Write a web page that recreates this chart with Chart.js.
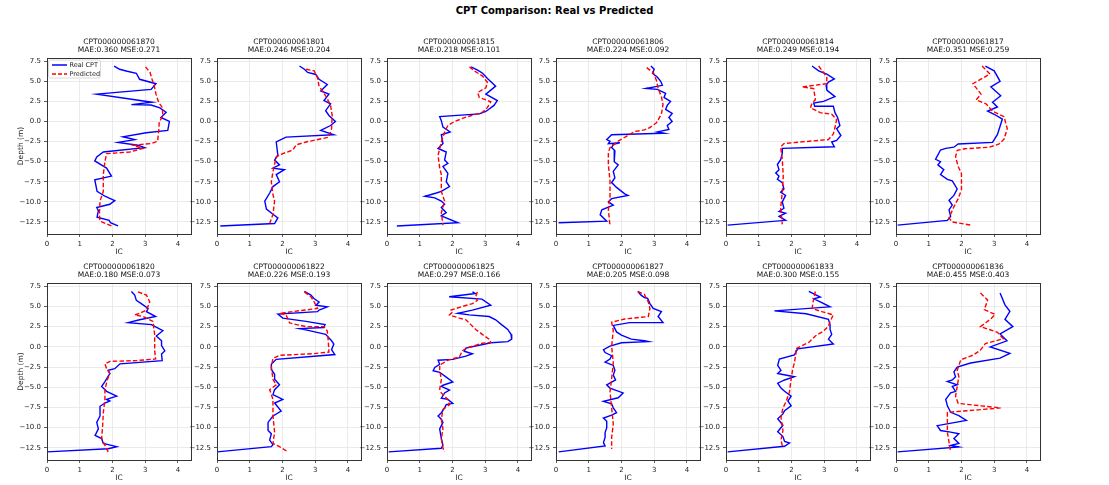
<!DOCTYPE html>
<html>
<head>
<meta charset="utf-8">
<title>CPT Comparison: Real vs Predicted</title>
<script src="https://cdn.jsdelivr.net/npm/chart.js@4.4.1/dist/chart.umd.min.js"></script>
<style>
  body { margin: 0; background: #fff; width: 1109px; height: 485px; position: relative; overflow: hidden; font-family: "DejaVu Sans", sans-serif; }
  #suptitle { position: absolute; top: 5px; left: 554.5px; transform: translateX(-50%); font-weight: bold; font-size: 10px; white-space: nowrap; color: #000; }
  canvas { position: absolute; }
</style>
</head>
<body>
<div id="suptitle">CPT Comparison: Real vs Predicted</div>
<script>
// Soundings, scores and axis ticks
const cptIds = ['CPT000000061870', 'CPT000000061801', 'CPT000000061815', 'CPT000000061806', 'CPT000000061814', 'CPT000000061817',
                'CPT000000061820', 'CPT000000061822', 'CPT000000061825', 'CPT000000061827', 'CPT000000061833', 'CPT000000061836'];
const maeValues = [0.360, 0.246, 0.218, 0.224, 0.249, 0.351, 0.180, 0.226, 0.297, 0.205, 0.300, 0.455];
const mseValues = [0.271, 0.204, 0.101, 0.092, 0.194, 0.259, 0.073, 0.193, 0.166, 0.098, 0.155, 0.403];
const xTicks = [0, 1, 2, 3, 4];
const yTicks = [7.5, 5.0, 2.5, 0.0, -2.5, -5.0, -7.5, -10.0, -12.5];

// Profiles as [IC, depth (m)]
const real1870 = [[2.05,6.9],[2.22,6.5],[2.45,6.25],[2.73,6.0],[2.83,5.25],[3.33,4.7],[3.18,4.0],[1.52,3.4],[2.53,2.8],[3.21,2.4],[2.58,2.1],[3.18,2.05],[3.45,1.7],[3.64,1.15],[3.48,0.5],[3.74,0.0],[3.69,-1.1],[3.03,-1.4],[2.32,-1.9],[2.68,-2.25],[2.17,-2.6],[2.78,-2.95],[2.98,-3.25],[1.72,-3.8],[1.52,-4.4],[1.46,-4.9],[1.82,-5.8],[1.97,-6.8],[1.46,-7.25],[1.53,-8.7],[1.77,-9.3],[2.07,-9.85],[1.92,-10.3],[1.52,-10.7],[1.57,-11.1],[1.53,-11.9],[1.9,-12.3],[1.94,-12.6],[2.17,-13.0]];
const pred1870 = [[3.01,6.8],[3.15,6.1],[3.21,5.25],[3.28,4.4],[3.33,3.4],[3.41,2.4],[3.52,1.75],[3.54,0.75],[3.43,-0.1],[3.41,-1.3],[3.38,-2.45],[3.18,-2.75],[2.63,-2.95],[2.93,-3.35],[2.53,-3.8],[1.82,-4.0],[1.77,-5.0],[1.72,-6.6],[1.72,-8.7],[1.62,-9.9],[1.6,-11.6],[1.62,-12.4],[1.97,-13.0]];

const real1801 = [[2.52,6.9],[2.67,6.5],[2.77,6.1],[3.02,5.85],[3.12,5.25],[3.37,4.6],[3.17,3.8],[3.42,3.4],[3.27,2.6],[3.47,2.2],[3.32,1.35],[3.42,0.75],[3.62,0.0],[3.47,-0.5],[3.17,-1.1],[3.57,-1.65],[2.11,-1.95],[1.81,-2.55],[1.86,-4.2],[1.76,-4.8],[1.91,-5.4],[1.71,-5.8],[2.06,-6.0],[1.81,-6.6],[1.91,-7.5],[1.71,-8.1],[1.61,-8.9],[1.46,-9.9],[1.51,-10.9],[1.71,-11.55],[1.86,-12.0],[1.76,-12.7],[0.1,-13.0]];
const pred1801 = [[2.72,6.5],[2.97,6.3],[3.07,5.45],[3.12,4.4],[3.32,3.2],[3.47,2.0],[3.52,0.75],[3.5,-0.9],[3.42,-1.95],[2.72,-2.55],[2.42,-2.9],[2.32,-3.55],[2.01,-4.0],[1.81,-4.4],[1.71,-6.25],[1.66,-7.5],[1.71,-9.1],[1.76,-9.9],[1.71,-11.55],[1.61,-12.7]];

const real1815 = [[2.57,6.8],[2.77,6.4],[2.92,6.0],[3.07,5.35],[3.32,4.4],[3.02,3.4],[3.37,2.6],[3.27,2.0],[3.02,1.25],[2.82,0.95],[1.61,0.6],[1.66,0.1],[1.71,-0.7],[1.93,-1.3],[1.66,-1.65],[1.71,-2.75],[1.56,-3.35],[1.81,-3.8],[1.76,-4.8],[1.86,-5.2],[1.71,-5.6],[1.86,-6.45],[1.81,-7.5],[1.91,-8.1],[1.66,-8.7],[1.51,-8.9],[1.16,-9.3],[1.46,-9.5],[1.66,-9.9],[1.76,-10.3],[1.66,-10.7],[1.81,-11.35],[1.66,-11.75],[2.17,-12.6],[0.3,-13.0]];
const pred1815 = [[2.52,6.8],[2.67,6.3],[2.92,5.65],[3.07,4.85],[3.02,4.2],[2.77,3.6],[2.82,3.0],[3.17,2.45],[3.07,1.75],[2.92,1.15],[2.42,0.55],[2.06,0.0],[1.86,-0.5],[1.76,-1.3],[1.66,-2.55],[1.56,-4.2],[1.61,-5.8],[1.66,-6.6],[1.66,-8.7],[1.76,-9.9],[1.66,-11.35],[1.71,-12.9]];

const real1806 = [[2.9,6.9],[3.0,6.5],[2.95,6.0],[3.1,5.5],[3.2,5.0],[3.25,4.5],[2.75,4.1],[3.1,4.0],[3.35,3.5],[3.3,3.0],[3.5,2.5],[3.4,2.0],[3.35,1.5],[3.55,1.0],[3.45,0.5],[3.55,0.0],[3.4,-0.5],[3.45,-1.0],[3.1,-1.3],[3.3,-1.45],[1.7,-1.65],[1.55,-2.25],[1.65,-2.45],[1.6,-2.75],[1.95,-2.65],[1.75,-2.85],[1.7,-3.25],[1.8,-3.65],[1.78,-5.0],[1.9,-5.4],[1.75,-6.2],[1.8,-7.0],[1.7,-7.6],[1.85,-8.2],[2.1,-9.0],[2.2,-9.2],[1.7,-9.6],[1.6,-10.0],[1.75,-10.4],[1.4,-11.0],[1.35,-11.6],[1.55,-12.4],[0.08,-12.6]];
const pred1806 = [[2.77,6.7],[2.97,6.1],[3.07,5.1],[3.12,4.1],[3.22,3.1],[3.27,2.1],[3.22,0.9],[3.07,-0.15],[2.87,-0.75],[2.7,-1.05],[2.4,-1.25],[2.15,-1.85],[1.9,-2.45],[1.65,-3.25],[1.6,-3.85],[1.6,-5.4],[1.65,-7.4],[1.65,-9.4],[1.6,-11.0],[1.65,-13.0]];

const real1814 = [[2.63,6.9],[2.83,6.3],[3.08,5.9],[3.31,5.3],[3.13,4.9],[3.06,4.5],[3.08,3.9],[3.33,3.1],[2.98,2.5],[2.68,2.3],[2.71,1.9],[3.28,1.9],[3.33,1.1],[3.41,0.5],[3.48,-0.5],[3.38,-0.9],[3.51,-1.75],[3.38,-2.35],[3.23,-2.55],[3.31,-3.15],[1.72,-3.35],[1.72,-3.95],[1.67,-4.75],[1.57,-5.35],[1.62,-6.0],[1.52,-6.4],[1.62,-6.8],[1.57,-7.2],[1.72,-7.6],[1.77,-8.4],[1.67,-8.8],[1.82,-9.2],[1.72,-10.0],[1.77,-10.8],[1.62,-11.2],[1.82,-11.4],[1.62,-11.8],[1.82,-12.3],[0.05,-12.9]];
const pred1814 = [[2.83,6.9],[2.98,6.1],[3.08,5.5],[3.08,4.7],[2.32,4.3],[2.68,4.1],[2.73,2.7],[2.63,2.3],[2.58,1.7],[2.88,1.1],[3.23,0.9],[3.38,0.25],[3.33,-0.75],[3.28,-1.55],[3.13,-2.25],[2.42,-2.5],[1.77,-2.75],[1.67,-3.15],[1.72,-4.75],[1.75,-6.8],[1.72,-8.8],[1.67,-10.8],[1.72,-12.8]];

const real1817 = [[2.73,6.9],[3.0,6.3],[3.18,5.0],[2.9,4.3],[3.2,3.2],[2.95,2.4],[3.1,1.8],[2.8,1.3],[3.0,0.9],[3.25,0.3],[3.1,-1.6],[2.95,-2.6],[1.9,-2.8],[1.77,-3.2],[1.52,-3.35],[1.36,-3.55],[1.21,-4.7],[1.36,-5.0],[1.28,-5.4],[1.46,-6.0],[1.36,-6.6],[1.57,-7.2],[1.72,-7.4],[1.87,-8.4],[1.77,-9.2],[1.62,-9.8],[1.72,-10.4],[1.62,-11.0],[1.67,-11.8],[1.57,-12.3],[0.05,-12.9]];
const pred1817 = [[2.63,6.9],[2.87,5.9],[2.35,4.7],[2.6,3.4],[2.45,2.7],[2.75,2.2],[2.95,1.3],[3.3,0.6],[3.4,-0.9],[3.3,-2.2],[3.15,-2.8],[2.85,-3.2],[2.1,-3.4],[1.87,-3.6],[1.82,-4.4],[1.9,-5.6],[2.0,-6.5],[2.0,-8.5],[1.9,-9.6],[1.77,-10.6],[1.62,-12.0],[1.72,-12.5],[2.3,-12.9]];

const real1820 = [[2.58,6.85],[2.68,6.4],[2.73,5.75],[2.88,5.35],[3.09,4.75],[3.04,4.35],[3.32,3.75],[2.83,3.35],[2.48,3.0],[3.19,2.75],[3.54,2.0],[3.34,1.35],[3.5,0.75],[3.5,0.15],[3.6,-0.5],[3.5,-0.9],[3.52,-1.7],[2.23,-2.1],[2.07,-2.7],[1.87,-2.9],[1.92,-3.3],[1.77,-4.3],[1.67,-4.9],[1.82,-5.5],[2.13,-6.1],[1.82,-6.5],[1.92,-6.7],[1.77,-6.95],[1.62,-7.35],[1.62,-8.55],[1.52,-9.35],[1.57,-10.15],[1.47,-10.95],[1.67,-11.35],[1.72,-11.95],[2.13,-12.35],[1.87,-12.6],[0.0,-13.0]];
const pred1820 = [[2.78,6.8],[3.04,6.4],[3.14,5.55],[3.04,4.55],[2.83,4.15],[2.68,3.95],[2.94,3.75],[3.24,3.15],[3.29,1.5],[3.29,-0.5],[3.32,-1.5],[2.73,-1.7],[1.92,-1.8],[1.77,-2.1],[1.82,-2.7],[1.92,-3.3],[1.84,-4.1],[1.77,-5.3],[1.77,-6.5],[1.72,-8.15],[1.7,-9.75],[1.67,-11.35],[1.87,-13.0]];

const real1822 = [[2.67,6.85],[2.87,6.4],[2.97,5.95],[3.12,5.55],[3.02,5.15],[3.37,4.95],[3.12,4.55],[3.07,4.35],[1.86,4.05],[2.01,3.55],[2.72,3.15],[3.3,2.75],[3.27,2.4],[2.52,2.25],[2.82,2.0],[3.32,1.55],[3.5,0.75],[3.57,0.35],[3.5,-0.35],[3.6,-0.95],[1.81,-1.55],[1.66,-2.15],[1.66,-2.8],[1.76,-3.4],[1.76,-4.0],[1.91,-4.7],[1.76,-5.3],[1.71,-5.9],[2.01,-6.5],[1.76,-6.95],[1.96,-7.95],[1.71,-8.55],[1.56,-9.35],[1.56,-10.35],[1.66,-10.75],[1.61,-11.55],[1.71,-12.1],[1.66,-12.35],[0.0,-13.0]];
const pred1822 = [[2.67,6.8],[2.87,6.2],[2.97,5.55],[3.02,5.15],[3.07,4.75],[1.91,4.15],[2.11,3.95],[2.22,2.95],[2.72,2.5],[3.27,2.5],[3.37,1.95],[3.4,0.75],[3.42,-0.65],[2.92,-0.85],[1.91,-1.05],[1.71,-1.45],[1.66,-2.45],[1.71,-4.05],[1.81,-4.7],[1.61,-5.3],[1.71,-6.5],[1.71,-8.55],[1.76,-10.55],[1.71,-11.95],[1.91,-12.35],[2.17,-13.0]];

const real1825 = [[2.61,6.8],[2.7,6.6],[1.9,6.2],[2.9,5.9],[3.17,5.15],[2.61,4.55],[2.16,4.15],[2.51,3.95],[3.12,3.75],[3.32,3.35],[3.5,2.75],[3.69,2.15],[3.79,1.55],[3.81,0.95],[3.69,0.65],[3.18,0.5],[2.41,-0.15],[2.36,-0.55],[2.61,-0.85],[2.41,-1.15],[2.01,-1.55],[1.56,-1.65],[1.61,-2.15],[1.46,-2.55],[1.41,-2.95],[1.61,-3.15],[1.81,-3.75],[2.01,-4.35],[1.71,-4.75],[1.66,-4.9],[1.91,-5.35],[1.76,-5.7],[1.66,-6.35],[1.86,-6.5],[2.01,-7.0],[1.81,-7.15],[1.76,-7.55],[1.66,-8.15],[1.56,-8.55],[1.66,-8.95],[1.71,-9.35],[1.61,-10.15],[1.66,-11.35],[1.71,-12.15],[1.66,-12.55],[0.05,-13.0]];
const pred1825 = [[2.76,6.8],[2.71,6.2],[2.76,5.75],[2.61,5.35],[2.26,4.95],[1.96,4.55],[2.01,4.35],[1.91,3.95],[2.21,3.55],[2.41,3.35],[2.56,2.75],[2.71,2.15],[2.91,1.55],[3.12,0.95],[3.17,0.55],[2.91,0.45],[2.51,-0.05],[2.31,-0.45],[2.21,-1.25],[1.86,-1.65],[1.61,-2.25],[1.61,-2.85],[1.66,-4.05],[1.61,-5.25],[1.66,-5.7],[1.86,-6.5],[1.91,-7.15],[1.71,-7.75],[1.66,-8.95],[1.71,-10.15],[1.66,-11.35],[1.71,-12.55],[1.76,-13.0]];

const real1827 = [[2.5,6.85],[2.6,6.4],[2.7,6.1],[2.8,6.0],[2.87,5.35],[2.97,4.75],[3.22,4.35],[3.12,3.75],[3.27,3.0],[2.25,3.0],[1.75,2.65],[1.85,1.85],[2.0,1.45],[2.3,0.95],[2.7,0.75],[2.82,0.65],[2.0,0.5],[1.65,0.1],[1.45,-0.35],[1.5,-0.7],[1.7,-1.1],[1.65,-1.5],[1.5,-1.9],[1.75,-2.3],[1.8,-2.9],[1.75,-3.5],[1.82,-4.1],[1.55,-4.7],[1.65,-5.1],[2.05,-5.7],[1.9,-6.3],[1.45,-6.75],[1.7,-7.05],[1.75,-7.55],[1.85,-8.15],[1.7,-8.45],[1.45,-8.8],[1.55,-9.2],[1.55,-10.0],[1.5,-10.6],[1.5,-11.2],[1.45,-11.85],[1.5,-12.25],[0.08,-13.0]];
const pred1827 = [[2.5,6.85],[2.7,6.5],[2.72,6.3],[2.82,5.55],[2.87,4.75],[2.82,3.75],[2.1,3.45],[1.7,3.05],[1.75,2.05],[1.7,0.05],[1.75,-1.95],[1.7,-3.95],[1.65,-5.55],[1.7,-7.55],[1.75,-9.55],[1.7,-11.2],[1.7,-12.65]];

const real1833 = [[2.53,6.85],[2.88,6.15],[2.68,5.95],[2.88,5.55],[3.18,4.95],[1.48,4.45],[2.45,4.1],[3.13,3.4],[3.18,2.75],[3.18,2.15],[3.23,1.55],[3.13,0.95],[3.28,0.35],[2.19,-0.25],[2.09,-1.0],[1.63,-1.5],[1.58,-2.3],[1.68,-2.9],[1.58,-3.3],[2.09,-3.7],[1.79,-4.1],[1.58,-4.5],[1.68,-5.1],[1.79,-5.5],[1.99,-6.1],[1.89,-6.7],[1.99,-7.3],[1.79,-7.9],[1.74,-8.3],[1.58,-8.9],[1.74,-9.7],[1.58,-10.5],[1.74,-11.1],[1.79,-11.7],[1.94,-11.9],[1.79,-12.3],[0.05,-13.0]];
const pred1833 = [[2.73,6.85],[2.68,5.95],[2.63,4.75],[2.93,4.35],[3.28,3.95],[3.18,3.15],[3.13,2.55],[2.98,1.95],[2.73,1.35],[2.53,0.55],[2.32,0.15],[2.12,-0.25],[2.14,-0.75],[2.09,-1.95],[2.04,-2.75],[1.99,-3.95],[1.94,-5.55],[1.84,-6.75],[1.74,-7.55],[1.68,-8.75],[1.74,-10.35],[1.68,-11.55],[1.74,-12.55]];

const real1836 = [[3.18,6.65],[3.33,5.2],[3.48,4.4],[3.33,3.4],[3.57,2.5],[3.18,1.6],[3.39,0.75],[2.88,0.0],[3.48,-0.8],[3.18,-1.4],[2.28,-2.0],[1.87,-2.5],[1.77,-3.1],[1.82,-3.7],[1.72,-4.1],[1.57,-4.3],[1.87,-4.7],[1.72,-4.9],[1.82,-5.5],[1.67,-5.7],[1.52,-6.5],[1.57,-7.3],[1.67,-8.1],[1.92,-8.5],[2.15,-9.1],[1.26,-9.75],[1.36,-10.35],[1.67,-10.55],[1.92,-10.75],[1.77,-11.35],[1.92,-11.95],[1.67,-12.2],[1.92,-12.4],[0.05,-13.0]];
const pred1836 = [[2.58,6.65],[2.8,5.8],[2.7,4.6],[3.03,4.0],[2.88,3.4],[2.58,2.5],[3.1,1.8],[3.28,1.0],[2.73,0.4],[2.58,-0.4],[2.37,-1.0],[1.98,-1.6],[1.92,-2.3],[1.87,-2.9],[1.92,-3.7],[1.87,-4.9],[1.82,-6.1],[1.9,-7.0],[2.6,-7.3],[3.2,-7.55],[2.5,-7.8],[1.57,-8.1],[1.57,-8.95],[1.57,-10.55],[1.62,-11.8],[1.67,-13.0]];

const realSeries = [real1870, real1801, real1815, real1806, real1814, real1817, real1820, real1822, real1825, real1827, real1833, real1836];
const predSeries = [pred1870, pred1801, pred1815, pred1806, pred1814, pred1817, pred1820, pred1822, pred1825, pred1827, pred1833, pred1836];

// grid layout (px)
const AXIS_LEFT = [47, 217, 387, 556, 726, 896];
const AXIS_TOP = [58, 283];
const AXIS_W = 144, AXIS_H = [176, 177];
const FONT = '"DejaVu Sans", sans-serif';
const SPINE = '#333333';
const GRID = '#e6e6e6';

const toXY = pts => pts.map(p => ({ x: p[0], y: p[1] }));
const fmtDepth = v => (v < 0 ? '\u2212' : '') + Math.abs(v).toFixed(1);

// frame, subplot title and (first panel only) legend
const panelDecor = {
    id: 'panelDecor',
    afterDraw(chart, args, opts) {
        const { ctx, chartArea: a } = chart;
        ctx.save();
        ctx.strokeStyle = SPINE;
        ctx.lineWidth = 1;
        ctx.strokeRect(Math.round(a.left) + 0.5, Math.round(a.top) + 0.5, Math.round(a.right - a.left), Math.round(a.bottom - a.top));

        ctx.fillStyle = '#111';
        ctx.font = '7.5px ' + FONT;
        ctx.textAlign = 'center';
        ctx.textBaseline = 'middle';
        const cx = (a.left + a.right) / 2;
        ctx.fillText(opts.line1, cx, a.top - 16);
        ctx.fillText(opts.line2, cx, a.top - 8);

        if (opts.legend) {
            const bx = a.left + 1.5, by = a.top + 2, bw = 52, bh = 18;
            ctx.fillStyle = 'rgba(255,255,255,0.8)';
            ctx.strokeStyle = '#d0d0d0';
            ctx.lineWidth = 0.8;
            ctx.beginPath();
            ctx.roundRect(bx, by, bw, bh, 2);
            ctx.fill();
            ctx.stroke();
            ctx.font = '6.5px ' + FONT;
            ctx.textAlign = 'left';
            ctx.lineWidth = 1.5;
            ctx.strokeStyle = '#0000ff';
            ctx.beginPath(); ctx.moveTo(bx + 3.5, by + 5); ctx.lineTo(bx + 18.5, by + 5); ctx.stroke();
            ctx.strokeStyle = '#ff0000';
            ctx.setLineDash([4, 2]);
            ctx.beginPath(); ctx.moveTo(bx + 3.5, by + 14); ctx.lineTo(bx + 18.5, by + 14); ctx.stroke();
            ctx.setLineDash([]);
            ctx.fillStyle = '#222';
            ctx.fillText('Real CPT', bx + 21, by + 5);
            ctx.fillText('Predicted', bx + 21, by + 14);
        }
        ctx.restore();
    }
};

function drawPanel(i) {
    const col = i % 6, row = Math.floor(i / 6);
    const padL = col === 0 ? AXIS_LEFT[0] : 40;
    const padT = 26, padR = 8, padB = 24;
    const canvas = document.createElement('canvas');
    canvas.width = padL + AXIS_W + padR;
    canvas.height = padT + AXIS_H[row] + padB;
    canvas.style.left = (AXIS_LEFT[col] - padL) + 'px';
    canvas.style.top = (AXIS_TOP[row] - padT) + 'px';
    document.body.appendChild(canvas);

    new Chart(canvas.getContext('2d'), {
        type: 'scatter',
        data: {
            datasets: [{
                label: 'Real CPT',
                data: toXY(realSeries[i]),
                showLine: true,
                borderColor: '#0000ff',
                borderWidth: 1.4,
                pointRadius: 0,
                order: 1
            }, {
                label: 'Predicted',
                data: toXY(predSeries[i]),
                showLine: true,
                borderColor: '#ff0000',
                borderWidth: 1.4,
                borderDash: [4.5, 2.2],
                pointRadius: 0,
                order: 0
            }]
        },
        options: {
            responsive: false,
            animation: false,
            events: [],
            layout: { padding: { top: padT, right: padR, left: 0, bottom: 0 } },
            plugins: {
                legend: { display: false },
                tooltip: { enabled: false },
                panelDecor: {
                    line1: cptIds[i],
                    line2: 'MAE:' + maeValues[i].toFixed(3) + ' MSE:' + mseValues[i].toFixed(3),
                    legend: i === 0
                }
            },
            scales: {
                x: {
                    type: 'linear',
                    min: 0,
                    max: 4.4,
                    afterBuildTicks: s => { s.ticks = xTicks.map(v => ({ value: v })); },
                    afterFit: s => { s.height = padB; },
                    grid: { color: GRID, lineWidth: 0.8, tickColor: SPINE, tickLength: 3, tickWidth: 0.8 },
                    border: { display: false },
                    ticks: { font: { size: 7, family: FONT }, color: '#222', padding: 3, maxRotation: 0, callback: v => String(v) },
                    title: { display: true, text: 'IC', font: { size: 7.5, family: FONT }, color: '#222', padding: { top: 0, bottom: 1 } }
                },
                y: {
                    type: 'linear',
                    min: -14,
                    max: 7.9,
                    afterBuildTicks: s => { s.ticks = yTicks.map(v => ({ value: v })); },
                    afterFit: s => { s.width = padL; },
                    grid: { color: GRID, lineWidth: 0.8, tickColor: SPINE, tickLength: 3, tickWidth: 0.8 },
                    border: { display: false },
                    ticks: { font: { size: 7, family: FONT }, color: '#222', padding: 3, callback: v => fmtDepth(v) },
                    title: { display: col === 0, text: 'Depth (m)', font: { size: 7.5, family: FONT }, color: '#222', padding: { top: 17, bottom: 0 } }
                }
            }
        },
        plugins: [panelDecor]
    });
}

for (let i = 0; i < 12; i++) drawPanel(i);
</script>
</body>
</html>
